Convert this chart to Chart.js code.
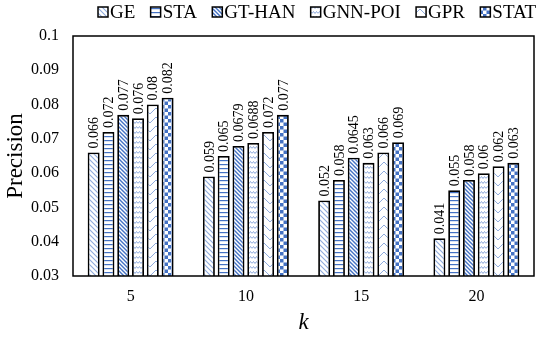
<!DOCTYPE html>
<html>
<head>
<meta charset="utf-8">
<script src="https://cdn.jsdelivr.net/npm/chart.js@4.4.0/dist/chart.umd.min.js"></script>
<style>
  html, body { margin: 0; padding: 0; background: #fff; }
  #wrap { width: 550px; height: 337px; }
</style>
</head>
<body>
<div id="wrap"><canvas id="chart" width="550" height="337"></canvas></div>
<script>
// data
const categories = ['5', '10', '15', '20'];
const seriesNames = ['GE', 'STA', 'GT-HAN', 'GNN-POI', 'GPR', 'STAT'];
const geVals = [0.066, 0.059, 0.052, 0.041];
const staVals = [0.072, 0.065, 0.058, 0.055];
const gthanVals = [0.077, 0.0679, 0.0645, 0.058];
const gnnpoiVals = [0.076, 0.0688, 0.063, 0.06];
const gprVals = [0.08, 0.072, 0.066, 0.062];
const statVals = [0.082, 0.077, 0.069, 0.063];
const yTicks = [0.03, 0.04, 0.05, 0.06, 0.07, 0.08, 0.09, 0.1];

const BLUE = '#4472c4';
const LIGHT = '#8eaadc';
const SERIF = '"Liberation Serif", "Times New Roman", serif';

function makePattern(w, h, draw) {
    const c = document.createElement('canvas');
    c.width = w;
    c.height = h;
    const g = c.getContext('2d');
    g.fillStyle = '#fff';
    g.fillRect(0, 0, w, h);
    draw(g, w, h);
    return g.createPattern(c, 'repeat');
}

function backslash(g, w, h) {
    g.beginPath();
    g.moveTo(-1, -1); g.lineTo(w + 1, h + 1);
    g.moveTo(-1, h - 1); g.lineTo(1, h + 1);
    g.moveTo(w - 1, -1); g.lineTo(w + 1, 1);
    g.stroke();
}

// light backslash hatch
const geFill = makePattern(5, 5, (g, w, h) => {
    g.strokeStyle = LIGHT;
    g.lineWidth = 1.1;
    backslash(g, w, h);
});
// horizontal lines
const staFill = makePattern(4, 4, (g, w) => {
    g.fillStyle = BLUE;
    g.fillRect(0, 0, w, 1.2);
});
// darker backslash hatch
const gthanFill = makePattern(4, 4, (g, w, h) => {
    g.strokeStyle = BLUE;
    g.lineWidth = 1.4;
    backslash(g, w, h);
});
// wavy horizontal lines
const gnnFill = makePattern(6, 5, (g) => {
    g.strokeStyle = LIGHT;
    g.lineWidth = 1;
    g.beginPath();
    g.moveTo(0, 3.5);
    g.lineTo(1.5, 1.5);
    g.lineTo(3, 3.5);
    g.lineTo(4.5, 1.5);
    g.lineTo(6, 3.5);
    g.stroke();
});
// stacked chevrons
const gprFill = makePattern(12, 9, (g, w, h) => {
    g.strokeStyle = LIGHT;
    g.lineWidth = 1;
    g.beginPath();
    g.moveTo(0, 0); g.lineTo(w / 2, h * 0.66); g.lineTo(w, 0);
    g.moveTo(0, h); g.lineTo(w / 2, h * 1.66); g.lineTo(w, h);
    g.moveTo(0, -h); g.lineTo(w / 2, -h * 0.34); g.lineTo(w, -h);
    g.stroke();
});
// checkerboard
const statFill = makePattern(7, 7, (g) => {
    g.fillStyle = BLUE;
    g.fillRect(0, 0, 3.5, 3.5);
    g.fillRect(3.5, 3.5, 3.5, 3.5);
});

const fills = [geFill, staFill, gthanFill, gnnFill, gprFill, statFill];
const values = [geVals, staVals, gthanVals, gnnpoiVals, gprVals, statVals];

const datasets = seriesNames.map((name, i) => ({
    label: name,
    data: values[i],
    backgroundColor: fills[i],
    borderColor: '#000',
    borderWidth: 1.8,
    borderSkipped: 'bottom',
    categoryPercentage: 0.77,
    barPercentage: 0.81
}));

// frame around the plot area
const framePlugin = {
    id: 'frame',
    afterDraw(chart) {
        const a = chart.chartArea;
        const ctx = chart.ctx;
        ctx.save();
        ctx.strokeStyle = '#000';
        ctx.lineWidth = 1.5;
        ctx.strokeRect(a.left, a.top, a.right - a.left, a.bottom - a.top);
        ctx.restore();
    }
};

// legend drawn across the top, compact box/text spacing
const topLegend = {
    id: 'topLegend',
    afterDraw(chart) {
        const ctx = chart.ctx;
        ctx.save();
        ctx.font = '19px ' + SERIF;
        ctx.textBaseline = 'middle';
        let x = 98;
        const y = 12;
        chart.data.datasets.forEach(ds => {
            ctx.fillStyle = ds.backgroundColor;
            ctx.fillRect(x, y - 5, 10, 10);
            ctx.strokeStyle = '#000';
            ctx.lineWidth = 1.5;
            ctx.strokeRect(x, y - 5, 10, 10);
            ctx.fillStyle = '#000';
            ctx.fillText(ds.label, x + 12, y + 1);
            x += 12 + ctx.measureText(ds.label).width + 15.3;
        });
        ctx.restore();
    }
};

// rotated value labels above each bar
const valueLabels = {
    id: 'valueLabels',
    afterDatasetsDraw(chart) {
        const ctx = chart.ctx;
        ctx.save();
        ctx.font = '14px ' + SERIF;
        ctx.fillStyle = '#000';
        ctx.textAlign = 'left';
        ctx.textBaseline = 'middle';
        chart.data.datasets.forEach((ds, i) => {
            chart.getDatasetMeta(i).data.forEach((bar, j) => {
                ctx.save();
                ctx.translate(bar.x + 1, bar.y - 4);
                ctx.rotate(-Math.PI / 2);
                ctx.fillText(String(ds.data[j]), 0, 0);
                ctx.restore();
            });
        });
        ctx.restore();
    }
};

new Chart(document.getElementById('chart').getContext('2d'), {
    type: 'bar',
    data: { labels: categories, datasets: datasets },
    options: {
        responsive: false,
        animation: false,
        layout: { padding: { left: 2, right: 16, top: 36, bottom: 0 } },
        plugins: {
            legend: { display: false },
            tooltip: { enabled: false }
        },
        scales: {
            x: {
                afterFit(axis) { axis.height = 61; },
                grid: { display: false, drawTicks: false },
                border: { display: false },
                ticks: {
                    font: { family: SERIF, size: 16 },
                    color: '#000',
                    padding: 11
                },
                title: {
                    display: true,
                    text: 'k',
                    font: { family: SERIF, size: 23, style: 'italic' },
                    color: '#000',
                    padding: { top: 2, bottom: 0 }
                }
            },
            y: {
                min: 0.03,
                max: 0.1,
                afterFit(axis) { axis.width = 71; },
                afterBuildTicks(axis) {
                    axis.ticks = yTicks.map(v => ({ value: v }));
                },
                grid: { display: false, drawTicks: false },
                border: { display: false },
                ticks: {
                    font: { family: SERIF, size: 16 },
                    color: '#000',
                    padding: 14,
                    callback: v => String(+v.toFixed(2))
                },
                title: {
                    display: true,
                    text: 'Precision',
                    font: { family: SERIF, size: 23 },
                    color: '#000',
                    padding: { top: 0, bottom: 4 }
                }
            }
        }
    },
    plugins: [framePlugin, valueLabels, topLegend]
});
</script>
</body>
</html>
